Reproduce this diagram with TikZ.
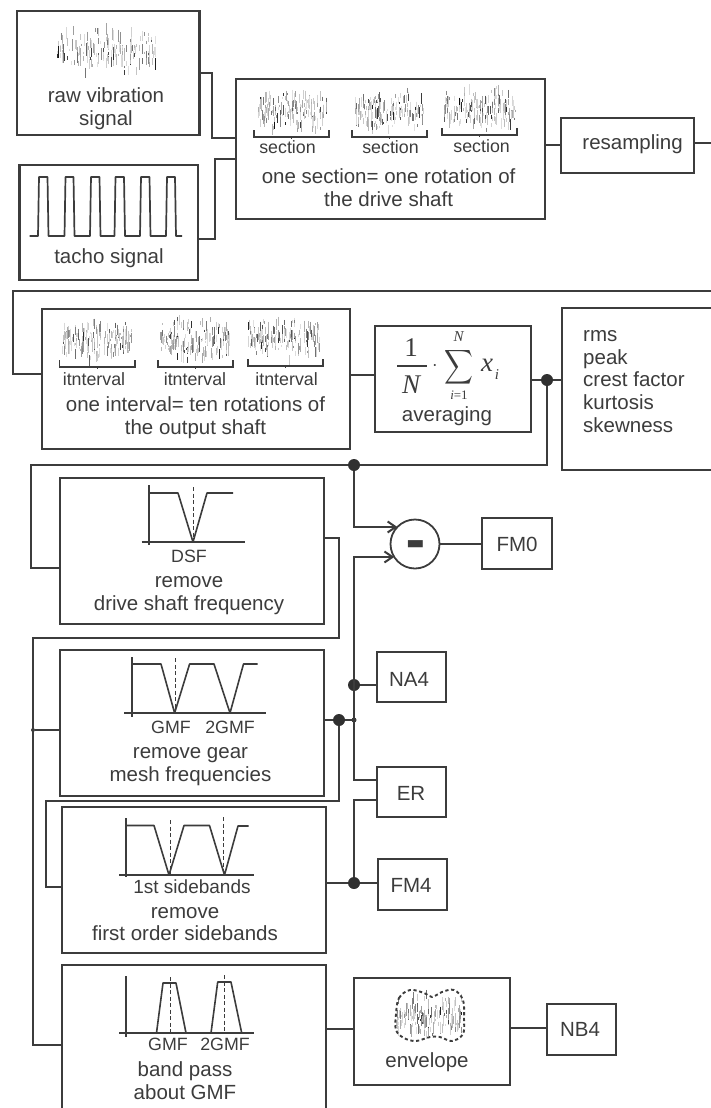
\documentclass[tikz,border=0pt]{standalone}
\usepackage{fontspec}
\setmainfont{Liberation Sans}
\newfontfamily\formfont{Liberation Serif}
\usetikzlibrary{arrows.meta,calc}
\definecolor{ink}{HTML}{3C3C3C}
\tikzset{
  boxn/.style={draw=ink,line width=2pt,inner sep=0pt,outer sep=0pt},
  thickbox/.style={boxn,line width=2.6pt},
  wire/.style={draw=ink,line width=2pt,line join=miter},
  jdot/.style={circle,fill=ink!80!black,inner sep=0pt,outer sep=0pt,minimum size=12pt},
  smalldot/.style={circle,fill=ink,inner sep=0pt,outer sep=0pt,minimum size=5pt},
  txt/.style={inner sep=0pt,text=ink,align=center,font=\fontsize{20.5}{22.8}\selectfont},
  lab/.style={inner sep=0pt,text=ink,align=center,font=\fontsize{17.8}{20}\selectfont},
  ax/.style={draw=ink,line width=1.7pt},
  curve/.style={draw=ink,line width=1.6pt,line join=round},
  dsh/.style={draw=ink,line width=1pt,dash pattern=on 4pt off 2.5pt},
  brk/.style={draw=ink,line width=1.5pt},
  big/.style={inner sep=0pt,text=ink,font=\fontsize{27}{27}\selectfont\formfont},
  bigit/.style={inner sep=0pt,text=ink,font=\fontsize{27}{27}\selectfont\formfont\itshape},
  smallit/.style={inner sep=0pt,text=ink,font=\fontsize{15}{15}\selectfont\formfont\itshape},
}
\newcommand{\boxat}[6][boxn]{%
  \pgfmathsetmacro\bw{#5-#3}\pgfmathsetmacro\bh{#6-#4}%
  \pgfmathsetmacro\bx{(#3+#5)/2}\pgfmathsetmacro\by{(#4+#6)/2}%
  \node[#1,minimum width=\bw pt,minimum height=\bh pt] (#2) at (\bx,\by) {};}
\newcommand{\noisesig}[5]{%
  \pgfmathsetseed{#5}%
  \foreach \k in {1,...,170}{%
    \pgfmathsetmacro\nu{rnd-.5}%
    \pgfmathsetmacro\nx{#1+\nu*#3}%
    \pgfmathsetmacro\ny{#2+(rnd+rnd-1)*#4*(0.52-0.5*\nu*\nu)}%
    \pgfmathsetmacro\nl{(0.02+0.11*rnd)*#4}%
    \pgfmathsetmacro\ns{12+85*rnd*rnd}%
    \draw[line width=1pt,black!\ns] (\nx,\ny-\nl) -- (\nx,\ny+\nl);
  }}
\newcommand{\bracketsym}[3]{% x1 x2 y
  \draw[brk] (#1,#3-7) -- (#1,#3) -- (#2,#3) -- (#2,#3-7);
  \draw[brk] ({(#1+#2)/2},#3) -- ({(#1+#2)/2},#3+2);}
\begin{document}
\begin{tikzpicture}[x=1pt,y=-1pt]
\useasboundingbox (0,0) rectangle (711,1108);
\clip (0,0) rectangle (711,1108);
% ---------- boxes
\boxat[thickbox]{raw}{17}{11}{199.5}{135}
\boxat[thickbox]{tacho}{19.5}{165}{198}{280}
\boxat{sect}{236}{79}{545}{219}
\boxat{resamp}{561}{118}{694}{173}
\boxat{interv}{41.5}{309}{350}{449}
\boxat{aver}{375}{326}{531}{432}
\boxat{stats}{562}{308}{730}{470}
\boxat{dsf}{60}{478}{324}{624}
\boxat{fmzero}{482}{518}{552}{569}
\boxat{gmf}{60}{650}{324}{796}
\boxat{naf}{377}{652}{446}{702}
\boxat{er}{377}{767}{446}{817}
\boxat{side}{62}{807}{326}{953}
\boxat{fmf}{378}{859}{447}{910}
\boxat{band}{62}{965}{326}{1130}
\boxat{env}{354}{978}{510}{1085}
\boxat{nbf}{547}{1004}{616}{1055}
\node[draw=ink,line width=1.8pt,circle,minimum size=49pt,inner sep=0pt,outer sep=0pt] (minus) at (415,544) {};
% ---------- junctions
\node[jdot] (jAvg) at (547,380) {};
\node[jdot] (jTop) at (354,465) {};
\node[jdot] (jNA) at (354,685) {};
\node[jdot] (jGmf) at (339,720) {};
\node[smalldot] (jCross) at (354,720) {};
\node[jdot] (jFm) at (354,883) {};
\node[smalldot,minimum size=4pt] (jLeft) at (33,730) {};
\coordinate (inR) at (711,143);
\coordinate (outL) at (711,291);
% ---------- connectors
\draw[wire] (raw.east |- 0,73) -- (212,73) -- (212,138) -- (sect.west |- 0,138);
\draw[wire] (tacho.east |- 0,239) -- (215,239) -- (215,159) -- (sect.west |- 0,159);
\draw[wire] (sect.east |- 0,145) -- (resamp.west |- 0,145);
\draw[wire] (resamp.east |- inR) -- (inR);
\draw[wire] (outL) -- (13,291) -- (13,374) -- (interv.west |- 0,374);
\draw[wire] (interv.east |- 0,375) -- (aver.west |- 0,375);
\draw[wire] (aver.east |- jAvg) -- (jAvg) -- (stats.west |- jAvg);
\draw[wire] (jAvg) -- (jAvg |- jTop) -- (jTop) -- (31,465) -- (31,568) -- (dsf.west |- 0,568);
\draw[wire,-{Straight Barb[length=8pt,width=11pt]}] (jTop) |- (minus.136);
\draw[wire] (dsf.east |- 0,538) -- (339,538) -- (339,638) -- (33,638) -- (33,1045) -- (band.west |- 0,1045);
\draw[wire] (jLeft) -- (gmf.west |- jLeft);
\draw[wire,-{Straight Barb[length=8pt,width=11pt]}] (er.west |- 0,780) -- (354,780) |- (minus.212);
\draw[wire] (minus.east) -- (fmzero.west |- minus.east);
\draw[wire] (jNA) -- (naf.west |- jNA);
\draw[wire] (gmf.east |- jGmf) -- (jGmf) -- (jCross);
\draw[wire] (jGmf) -- (339,801) -- (45.5,801) -- (45.5,887) -- (side.west |- 0,887);
\draw[wire] (side.east |- jFm) -- (jFm) -- (fmf.west |- jFm);
\draw[wire] (jFm) -- (354,800) -- (er.west |- 0,800);
\draw[wire] (band.east |- 0,1029) -- (env.west |- 0,1029);
\draw[wire] (env.east |- 0,1028) -- (nbf.west |- 0,1028);
% ---------- noise icons
\noisesig{107}{52}{100}{50}{11}
\noisesig{292}{111}{69}{44}{21}
\noisesig{389.5}{111}{69}{44}{31}
\noisesig{479.5}{109}{71}{44}{41}
\noisesig{97.5}{340}{70}{44}{51}
\noisesig{195}{340}{70}{44}{61}
\noisesig{284}{338}{71}{44}{71}
\noisesig{429}{1016}{66}{46}{81}
\draw[draw=ink,line width=1.9pt,dash pattern=on 3.2pt off 2.6pt]
  plot[smooth cycle,tension=.6] coordinates {(396,1014) (399,998) (410,990) (424,993) (432,997) (442,992) (454,990) (463,1000) (464,1018) (463,1034) (452,1041) (440,1037) (430,1037) (416,1041) (404,1038) (396,1030)};
% ---------- brackets
\bracketsym{254}{329}{137}
\bracketsym{352}{427}{137}
\bracketsym{442}{517}{135}
\bracketsym{59.5}{135}{367}
\bracketsym{158}{233}{367}
\bracketsym{248}{323}{366}
% ---------- tacho trace
\draw[draw=ink,line width=1.7pt,line join=round] (29.5,236) -- (38,236) -- (39,177) -- (47.5,177) -- (48.5,236)
  -- (64.5,236) -- (65.5,177) -- (73.5,177) -- (74.5,236)
  -- (90,236) -- (91,177) -- (99.5,177) -- (100.5,236)
  -- (114.5,236) -- (115.5,177) -- (124,177) -- (125,236)
  -- (140,236) -- (141,177) -- (149.5,177) -- (150.5,236)
  -- (166,236) -- (167,177) -- (175,177) -- (176,236) -- (182,236);
% ---------- filter icons
\draw[ax] (149,485) -- (149,545);
\draw[ax] (141.5,542) -- (245,542);
\draw[curve] (149,493) -- (178,493) -- (193,542) -- (207,493) -- (233,493);
\draw[dsh] (193,487) -- (193,542);
\draw[ax] (132,657) -- (132,717);
\draw[ax] (124,713) -- (266,713);
\draw[curve] (132,664) -- (161,664) -- (174.6,713) -- (189.6,664) -- (214,664) -- (230,713) -- (243.5,664) -- (257.6,664);
\draw[dsh] (175.5,658) -- (175.5,713);
\draw[ax] (126,818) -- (126,877);
\draw[ax] (119,875) -- (254,875);
\draw[curve] (126,825.5) -- (154,825.5) -- (169,875) -- (184,825.5) -- (209.5,825.5) -- (224.5,875) -- (238,826) -- (248.5,826);
\draw[dsh] (170,820) -- (170,875);
\draw[dsh] (223.6,817) -- (223.6,875);
\draw[ax] (126,976) -- (126,1037);
\draw[ax] (119,1033) -- (254,1033);
\draw[curve] (156.5,1033) -- (163,983) -- (176,983) -- (186,1033);
\draw[curve] (211,1033) -- (217.7,982) -- (231,982) -- (241.7,1033);
\draw[dsh] (170,977) -- (170,1033);
\draw[dsh] (224,975) -- (224,1033);
% ---------- texts
\node[txt] (t1) at (106,108.5) {raw vibration\\signal};
\node[txt] (t2) at (109,258) {tacho signal};
\node[lab] (s1) at (287.5,147) {section};
\node[lab] (s2) at (390.5,147) {section};
\node[lab] (s3) at (481.6,146) {section};
\node[txt] (t3) at (388.6,188) {one section= one rotation of\\the drive shaft};
\node[txt] (t4) at (632.6,144) {resampling};
\node[lab] (i1) at (94,379) {itnterval};
\node[lab] (i2) at (195,379) {itnterval};
\node[lab] (i3) at (286.6,379) {itnterval};
\node[txt] (t5) at (195.5,417.5) {one interval= ten rotations of\\the output shaft};
% averaging formula
\node[big] (f1) at (411,348) {1};
\draw[draw=ink,line width=1.2pt] (397,366) -- (427,366);
\node[bigit] (fN) at (411,385) {N};
\node[inner sep=0pt,text=ink] (fd) at (435,366) {\scalebox{2}{$\cdot$}};
\node[inner sep=0pt,text=ink] (fs) at (458.5,367) {\scalebox{2}[2.4]{$\displaystyle\sum$}};
\node[smallit] (fNt) at (458.5,337) {N};
\node[smallit,font=\fontsize{13}{13}\selectfont\formfont] (fi) at (459,395) {\textit{i}=1};
\node[bigit] (fx) at (487,365) {x};
\node[smallit] (fxi) at (497,375) {i};
\node[txt] (t6) at (447,416) {averaging};
\node[txt,align=left,anchor=north west] (t7) at (583,330) {rms\\peak\\crest factor\\kurtosis\\skewness};
\node[lab] (d1) at (189,556) {DSF};
\node[txt] (t8) at (189,596) {remove\\drive shaft frequency};
\node[text=ink,inner sep=0pt,font=\fontsize{30}{30}\selectfont\bfseries] (mn) at (416,552) {\scalebox{1}[2.4]{–}};
\node[txt] (t9) at (517,544) {FM0};
\node[txt] (t10) at (409,679) {NA4};
\node[lab] (g1) at (171,727) {GMF};
\node[lab] (g2) at (230,727) {2GMF};
\node[txt] (t11) at (190.5,767) {remove gear\\mesh frequencies};
\node[txt] (t12) at (411,793) {ER};
\node[txt,font=\fontsize{19}{22}\selectfont] (g3) at (192,887) {1st sidebands};
\node[txt] (t13) at (185,924) {remove\\first order sidebands};
\node[txt] (t14) at (411,885) {FM4};
\node[lab] (g4) at (168,1044) {GMF};
\node[lab] (g5) at (225,1044) {2GMF};
\node[txt] (t15) at (185,1081) {band pass\\about GMF};
\node[txt] (t16) at (427,1062) {envelope};
\node[txt] (t17) at (580,1029) {NB4};
\end{tikzpicture}
\end{document}
